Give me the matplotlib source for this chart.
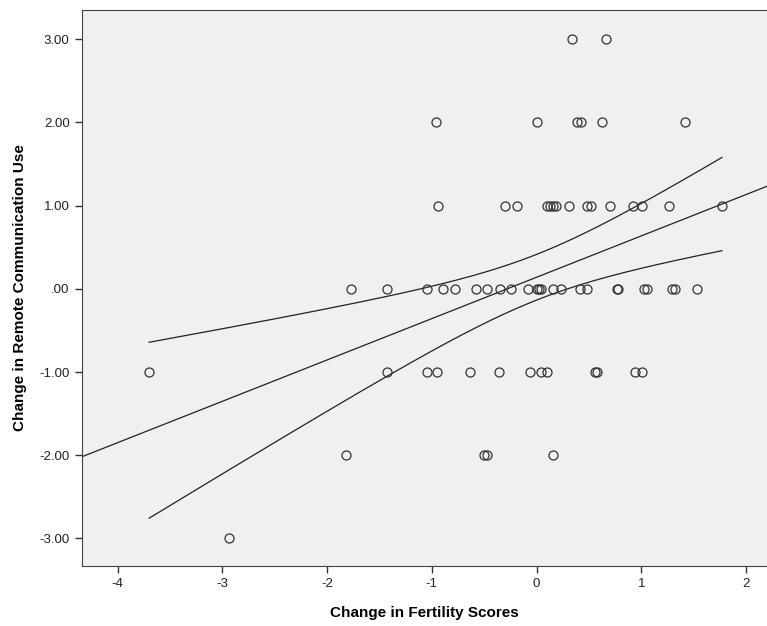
import numpy as np
import matplotlib.pyplot as plt

plt.rcParams['font.family'] = ['Liberation Sans', 'DejaVu Sans']

# change in fertility scores (x) grouped by change in remote communication use (y)
x_p3 = [0.34, 0.66]
x_p2 = [-0.96, 0.00, 0.39, 0.42, 0.62, 1.42]
x_p1 = [-0.94, -0.30, -0.19, 0.10, 0.13, 0.16, 0.19, 0.31, 0.48, 0.52,
        0.70, 0.92, 1.01, 1.26, 1.77]
x_0 = [-1.77, -1.43, -1.05, -0.89, -0.78, -0.58, -0.47, -0.35, -0.24, -0.08,
       0.00, 0.02, 0.04, 0.16, 0.23, 0.41, 0.48, 0.77, 0.78, 1.03, 1.05,
       1.29, 1.32, 1.53]
x_m1 = [-3.70, -1.43, -1.05, -0.95, -0.64, -0.36, -0.06, 0.04, 0.10, 0.56,
        0.58, 0.94, 1.01]
x_m2 = [-1.82, -0.50, -0.47, 0.16]
x_m3 = [-2.94]

groups = [(3, x_p3), (2, x_p2), (1, x_p1), (0, x_0), (-1, x_m1), (-2, x_m2), (-3, x_m3)]
x = np.concatenate([np.asarray(v, float) for _, v in groups])
y = np.concatenate([np.full(len(v), yy, float) for yy, v in groups])

yticks = [3, 2, 1, 0, -1, -2, -3]
ytick_labels = ['3.00', '2.00', '1.00', '.00', '-1.00', '-2.00', '-3.00']
xticks = [-4, -3, -2, -1, 0, 1, 2]

# linear fit and 95% confidence band for the mean
n = len(x)
b1, b0 = np.polyfit(x, y, 1)
resid = y - (b0 + b1*x)
s = np.sqrt(np.sum(resid**2)/(n - 2))
sxx = np.sum((x - x.mean())**2)
tcrit = 1.99

fig = plt.figure(figsize=(7.67, 6.26), dpi=100)
ax = fig.add_axes([0.107, 0.096, 0.893, 0.888])
ax.set_facecolor('#f0f0f0')

xlim = (-4.34, 2.2)
xl = np.linspace(xlim[0], xlim[1], 200)
ax.plot(xl, b0 + b1*xl, color='#222222', lw=0.9)
xb = np.linspace(x.min(), x.max(), 200)
half = tcrit*s*np.sqrt(1/n + (xb - x.mean())**2/sxx)
ax.plot(xb, b0 + b1*xb + half, color='#222222', lw=0.9)
ax.plot(xb, b0 + b1*xb - half, color='#222222', lw=0.9)

ax.plot(x, y, 'o', mfc='none', mec='#333333', ms=6.5, mew=0.9)

ax.set_xlim(xlim)
ax.set_ylim(-3.33, 3.35)
ax.set_xticks(xticks)
ax.set_xticklabels([str(t) for t in xticks])
ax.set_yticks(yticks)
ax.set_yticklabels(ytick_labels)
ax.tick_params(direction='out', length=5, width=1, color='#333333', labelsize=9.5,
               labelcolor='#222222', pad=4)
for side in ['left', 'bottom', 'top']:
    ax.spines[side].set_color('#444444')
ax.spines['right'].set_visible(False)

ax.set_xlabel('Change in Fertility Scores', fontsize=11, fontweight='bold', labelpad=11)
ax.set_ylabel('Change in Remote Communication Use', fontsize=11, fontweight='bold', labelpad=9)

fig.savefig('out.png', dpi=100)
